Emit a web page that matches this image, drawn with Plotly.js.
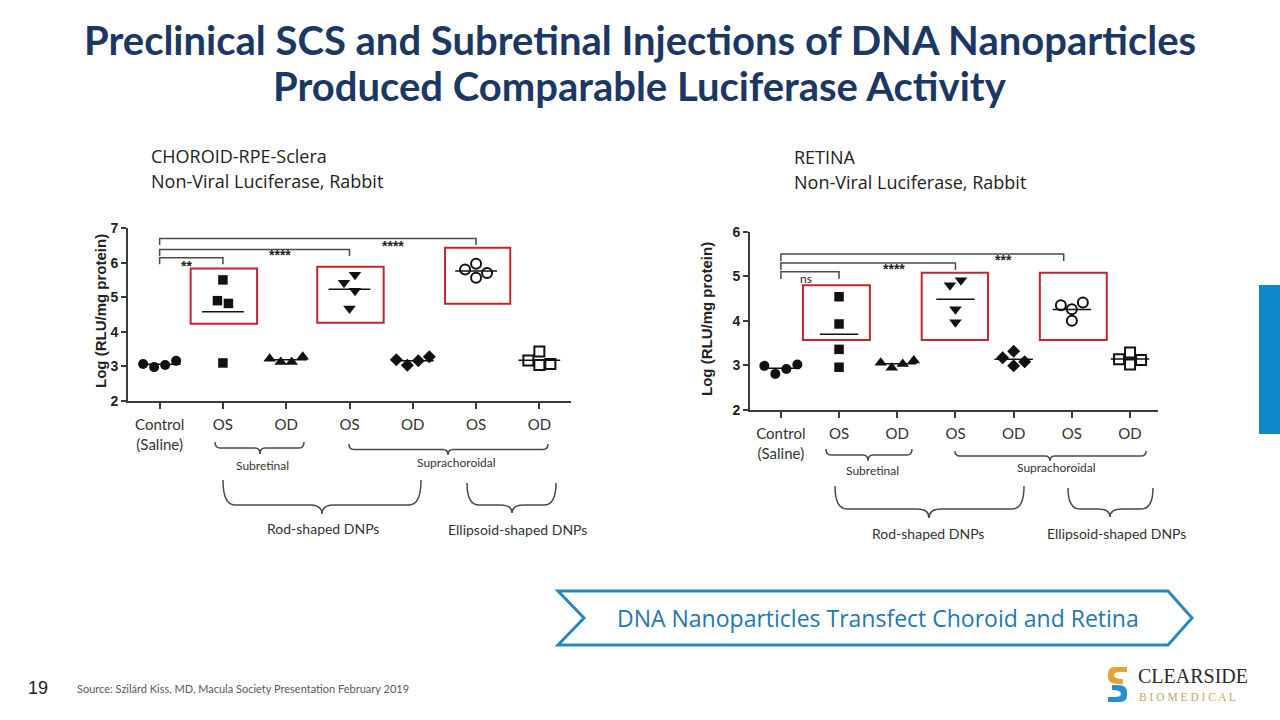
<!DOCTYPE html>
<html><head><meta charset="utf-8">
<script src="https://cdn.plot.ly/plotly-3.0.1.min.js"></script>
<style>html,body{margin:0;padding:0;background:#fff;overflow:hidden}#chart{width:1280px;height:720px}</style>
</head><body><div id="chart"></div>
<script>
// ---------------- data ----------------
const groupLabels = ['Control<br>(Saline)', 'OS', 'OD', 'OS', 'OD', 'OS', 'OD'];
const groupSymbols = ['circle', 'square', 'triangle-up', 'triangle-down', 'diamond', 'circle-open', 'square-open'];

// CHOROID-RPE-Sclera, Log (RLU/mg protein)
const choroidControl = [3.04, 2.98, 3.16, 3.07];
const choroidSubOS   = [5.50, 4.82, 4.90, 3.10];
const choroidSubOD   = [3.13, 3.13, 3.28, 3.22];
const choroidRodOS   = [5.65, 5.42, 5.19, 4.67];
const choroidRodOD   = [3.16, 3.03, 3.28, 3.19];
const choroidEllOS   = [5.97, 5.56, 5.80, 5.70];
const choroidEllOD   = [3.43, 3.04, 3.17, 3.07];
const choroidStars   = ['**', '****', '****'];

// RETINA, Log (RLU/mg protein)
const retinaControl = [2.92, 2.81, 3.02, 2.99];
const retinaSubOS   = [4.54, 3.93, 3.36, 2.96];
const retinaSubOD   = [3.03, 2.95, 3.11, 3.06];
const retinaRodOS   = [4.91, 4.80, 4.26, 3.97];
const retinaRodOD   = [3.32, 2.99, 3.17, 3.08];
const retinaEllOS   = [4.26, 4.35, 4.41, 4.00];
const retinaEllOD   = [3.29, 3.02, 3.14, 3.12];
const retinaStars   = ['ns', '****', '***'];

// ---------------- layout geometry (pixels on the 1280x720 slide) ----------------
const W = 1280, H = 720;
const X = p => p / W;
const Y = p => 1 - p / H;

const panels = [
  { xa: 'x', ya: 'y', px: [128, 571], py: [228, 401], xr: [-0.5, 6.5], yr: [2, 7],
    groups: [choroidControl, choroidSubOS, choroidSubOD, choroidRodOS, choroidRodOD, choroidEllOS, choroidEllOD],
    stars: choroidStars,
    brackets: [{x1: 1, y: 6.14, sx: 0.42, sy: 5.90}, {x1: 3, y: 6.38, sx: 1.90, sy: 6.22}, {x1: 5, y: 6.70, sx: 3.68, sy: 6.48}],
    drop: 0.19,
    boxes: [[0.49, 1.54, 4.23, 5.83], [2.49, 3.54, 4.26, 5.88], [4.51, 5.54, 4.81, 6.43]] },
  { xa: 'x2', ya: 'y2', px: [750, 1158], py: [231.7, 410], xr: [-0.53, 6.48], yr: [2, 6],
    groups: [retinaControl, retinaSubOS, retinaSubOD, retinaRodOS, retinaRodOD, retinaEllOS, retinaEllOD],
    stars: retinaStars,
    brackets: [{x1: 1, y: 5.10, sx: 0.43, sy: 4.96}, {x1: 3, y: 5.30, sx: 1.95, sy: 5.16}, {x1: 4.86, y: 5.50, sx: 3.82, sy: 5.37}],
    drop: 0.16,
    boxes: [[0.38, 1.53, 3.57, 4.80], [2.42, 3.56, 3.57, 5.08], [4.45, 5.60, 3.57, 5.08]] }
];

// simple beeswarm: spread points that would overlap, then centre each overlapping cluster
function swarm(vals, pxX, pxY) {
  const D = 10, step = 11;
  const offs = [];
  vals.forEach((v, i) => {
    const cands = [0];
    for (let j = 1; j < 8; j++) cands.push(-j * step, j * step);
    for (const c of cands) {
      let free = true;
      for (let k = 0; k < i; k++) {
        if (Math.abs(offs[k] - c) < D && Math.abs((vals[k] - v) * pxY) < D) { free = false; break; }
      }
      if (free) { offs.push(c); break; }
    }
  });
  const n = vals.length, comp = new Array(n).fill(-1);
  let cid = 0;
  for (let i = 0; i < n; i++) {
    if (comp[i] >= 0) continue;
    const st = [i]; comp[i] = cid;
    while (st.length) {
      const a = st.pop();
      for (let j = 0; j < n; j++) if (comp[j] < 0 && Math.abs((vals[a] - vals[j]) * pxY) < D) { comp[j] = cid; st.push(j); }
    }
    cid++;
  }
  for (let c = 0; c < cid; c++) {
    const idx = []; for (let i = 0; i < n; i++) if (comp[i] === c) idx.push(i);
    const o = idx.map(i => offs[i]);
    const sh = (Math.min(...o) + Math.max(...o)) / 2;
    idx.forEach(i => offs[i] -= sh);
  }
  return offs.map(o => o / pxX);
}

const INK = '#111111';
const RED = '#C1272D';
const AX = '#3a3a3a';
const traces = [];
const shapes = [];
const annotations = [];
const layout = {
  width: W, height: H, margin: {l: 0, r: 0, t: 0, b: 0},
  paper_bgcolor: '#ffffff', plot_bgcolor: 'rgba(0,0,0,0)', showlegend: false,
  shapes, annotations
};

panels.forEach((p, pi) => {
  const sfx = pi === 0 ? '' : '2';
  const pxX = (p.px[1] - p.px[0]) / (p.xr[1] - p.xr[0]);
  const pxY = (p.py[1] - p.py[0]) / (p.yr[1] - p.yr[0]);
  layout['xaxis' + sfx] = {
    domain: [X(p.px[0]), X(p.px[1])], range: p.xr, anchor: 'y' + sfx,
    tickmode: 'array', tickvals: groupLabels.map((_, i) => i), ticktext: groupLabels,
    ticks: 'outside', ticklen: 6, tickwidth: 2, tickcolor: AX, ticklabelstandoff: 3,
    showline: true, linewidth: 2, linecolor: AX, showgrid: false, zeroline: false,
    tickfont: {family: 'Lato', size: 15, color: '#333333'}, fixedrange: true
  };
  layout['yaxis' + sfx] = {
    domain: [Y(p.py[1]), Y(p.py[0])], range: p.yr, anchor: 'x' + sfx, dtick: 1,
    ticks: 'outside', ticklen: 5, tickwidth: 2, tickcolor: AX,
    showline: true, linewidth: 2, linecolor: AX, showgrid: false, zeroline: false,
    tickfont: {family: 'Liberation Sans', size: 14, weight: 'bold', color: '#222222'}, fixedrange: true
  };
  p.groups.forEach((vals, g) => {
    const mean = vals.reduce((a, b) => a + b, 0) / vals.length;
    traces.push({type: 'scatter', mode: 'lines', xaxis: p.xa, yaxis: p.ya,
      x: [g - 0.33, g + 0.33], y: [mean, mean], line: {color: INK, width: 1.5}, hoverinfo: 'skip'});
    const offs = swarm(vals, pxX, pxY);
    const sym = groupSymbols[g];
    const open = sym.indexOf('open') >= 0;
    const size = sym.indexOf('triangle') >= 0 ? 11 : (sym === 'square' ? 9.5 : 10);
    traces.push({type: 'scatter', mode: 'markers', xaxis: p.xa, yaxis: p.ya,
      x: vals.map((v, i) => g + offs[i]), y: vals,
      marker: {symbol: sym, size: size, color: INK, line: {width: open ? 2 : 0, color: INK}}, hoverinfo: 'skip'});
  });
  // significance brackets
  p.brackets.forEach((b, bi) => {
    shapes.push({type: 'path', xref: p.xa, yref: p.ya,
      path: `M 0,${b.y - p.drop} L 0,${b.y} L ${b.x1},${b.y} L ${b.x1},${b.y - p.drop}`,
      line: {color: '#4a4a4a', width: 1.5}});
    const isNs = p.stars[bi] === 'ns';
    annotations.push({xref: p.xa, yref: p.ya, x: b.sx, y: b.sy, text: p.stars[bi], showarrow: false,
      font: {family: isNs ? 'Lato' : 'Liberation Sans', size: isNs ? 12 : 14, color: '#222222', weight: isNs ? 'normal' : 'bold'}});
  });
  // red highlight boxes
  p.boxes.forEach(bx => shapes.push({type: 'rect', xref: p.xa, yref: p.ya,
    x0: bx[0], x1: bx[1], y0: bx[2], y1: bx[3], line: {color: RED, width: 2}}));
});

// ---------------- braces under the axes ----------------
function brace(x0, x1, xt, yTop, yMid, yBot, r) {
  const P = (x, y) => `${X(x)},${Y(y)}`;
  return `M ${P(x0, yTop)} Q ${P(x0, yMid)} ${P(x0 + r, yMid)} L ${P(xt - r, yMid)} Q ${P(xt, yMid)} ${P(xt, yBot)} ` +
         `Q ${P(xt, yMid)} ${P(xt + r, yMid)} L ${P(x1 - r, yMid)} Q ${P(x1, yMid)} ${P(x1, yTop)}`;
}
const braceDefs = [
  [215, 304, 260, 442, 448, 454, 5], [349, 548, 448, 444, 449.5, 455, 5],
  [223, 421, 322, 480, 505, 514, 12], [467, 556, 512, 483, 505, 513, 12],
  [826, 912, 868, 449, 455, 461, 5], [955, 1146, 1050, 451, 456, 461, 5],
  [835, 1024, 929, 486, 509, 518, 12], [1068, 1153, 1110, 488, 509, 517, 12]
];
braceDefs.forEach(d => shapes.push({type: 'path', xref: 'paper', yref: 'paper', path: brace(...d),
  line: {color: '#4a4a4a', width: 1.5}}));

function txt(text, x, y, font, xanchor, yanchor, extra) {
  annotations.push(Object.assign({xref: 'paper', yref: 'paper', x: X(x), y: Y(y), text: text, showarrow: false,
    xanchor: xanchor || 'center', yanchor: yanchor || 'middle', font: font}, extra || {}));
}

// title
const tf = {family: 'Lato', size: 40, weight: 'bold', color: '#1B3764'};
txt('Preclinical SCS and Subretinal Injections of DNA Nanoparticles', 640, 40, tf);
txt('Produced Comparable Luciferase Activity', 640, 86, tf);

const small = {family: 'Lato', size: 12, color: '#333333'};
const mid = {family: 'Lato', size: 14, color: '#333333'};
txt('Subretinal', 262, 465, small); txt('Suprachoroidal', 456, 462, small);
txt('Rod-shaped DNPs', 323, 528, mid); txt('Ellipsoid-shaped DNPs', 517, 529, mid);
txt('Subretinal', 872, 470, small); txt('Suprachoroidal', 1056, 467, small);
txt('Rod-shaped DNPs', 928, 533, mid); txt('Ellipsoid-shaped DNPs', 1116, 533, mid);

// y-axis titles
const ytf = {family: 'Liberation Sans', size: 15, weight: 'bold', color: '#222222'};
txt('Log (RLU/mg protein)', 100, 311, ytf, 'center', 'middle', {textangle: -90});
txt('Log (RLU/mg protein)', 706, 319, ytf, 'center', 'middle', {textangle: -90});

// panel captions
const cap = {family: 'Open Sans', size: 18, color: '#222222'};
txt('CHOROID-RPE-Sclera', 149, 156, cap, 'left'); txt('Non-Viral Luciferase, Rabbit', 149, 181, cap, 'left');
txt('RETINA', 792, 157, cap, 'left'); txt('Non-Viral Luciferase, Rabbit', 792, 182, cap, 'left');

// banner
shapes.push({type: 'path', xref: 'paper', yref: 'paper',
  path: `M ${X(558)},${Y(591)} L ${X(1168)},${Y(591)} L ${X(1192)},${Y(618)} L ${X(1168)},${Y(645)} L ${X(558)},${Y(645)} L ${X(584)},${Y(618)} Z`,
  line: {color: '#2A87BE', width: 3}, fillcolor: '#ffffff'});
txt('DNA Nanoparticles Transfect Choroid and Retina', 878, 618, {family: 'Open Sans', size: 23, color: '#2277B2'});

// side bar
shapes.push({type: 'rect', xref: 'paper', yref: 'paper', x0: X(1259), x1: X(1280), y0: Y(434), y1: Y(285),
  fillcolor: '#0E88C9', line: {width: 0}});

// footer
txt('19', 38, 688, {family: 'Liberation Sans', size: 18, color: '#222222'});
txt('Source: Szilárd Kiss, MD, Macula Society Presentation February 2019', 75, 688, {family: 'Lato', size: 11, color: '#595959'}, 'left');

// logo
shapes.push({type: 'path', xref: 'paper', yref: 'paper', fillcolor: '#E6A23C', line: {width: 0},
  path: `M ${X(1127)},${Y(667)} L ${X(1115)},${Y(667)} Q ${X(1108)},${Y(667)} ${X(1108)},${Y(674)} L ${X(1108)},${Y(677)} Q ${X(1108)},${Y(684)} ${X(1117)},${Y(684)} L ${X(1123)},${Y(684)} L ${X(1123)},${Y(679)} Q ${X(1114)},${Y(679)} ${X(1114)},${Y(675)} Q ${X(1114)},${Y(672)} ${X(1120)},${Y(672)} L ${X(1127)},${Y(672)} Z`});
shapes.push({type: 'path', xref: 'paper', yref: 'paper', fillcolor: '#2D8DCB', line: {width: 0},
  path: `M ${X(1108)},${Y(702)} L ${X(1120)},${Y(702)} Q ${X(1127)},${Y(702)} ${X(1127)},${Y(695)} L ${X(1127)},${Y(692)} Q ${X(1127)},${Y(685)} ${X(1118)},${Y(685)} L ${X(1112)},${Y(685)} L ${X(1112)},${Y(690)} Q ${X(1121)},${Y(690)} ${X(1121)},${Y(694)} Q ${X(1121)},${Y(697)} ${X(1115)},${Y(697)} L ${X(1108)},${Y(697)} Z`});
txt('CLEARSIDE', 1136, 676, {family: 'Liberation Serif', size: 20, color: '#2a2a2a'}, 'left');
txt('B I O M E D I C A L', 1137, 697, {family: 'Liberation Serif', size: 11.5, color: '#C4A66C'}, 'left');

Plotly.newPlot('chart', traces, layout, {staticPlot: true, displayModeBar: false});
</script>
</body></html>
